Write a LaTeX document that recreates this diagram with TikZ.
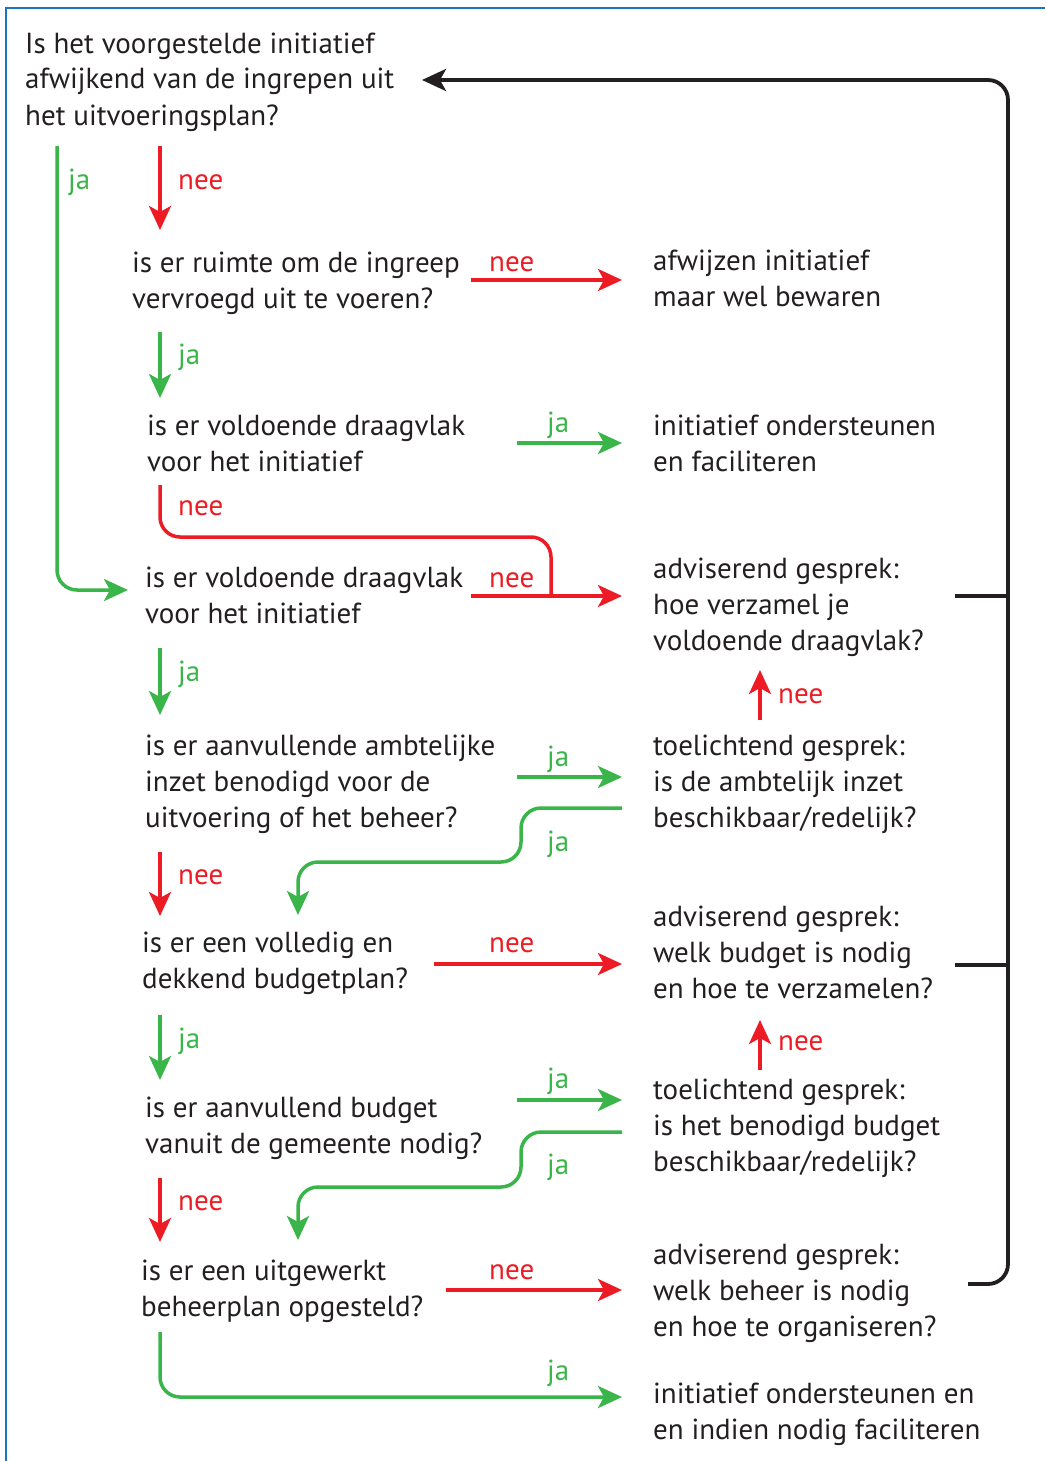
\documentclass[tikz,border=0pt]{standalone}
\usepackage{fontspec}
\setmainfont{PT Sans}
\usetikzlibrary{arrows.meta}
\definecolor{rd}{HTML}{ED1C24}
\definecolor{gn}{HTML}{39B54A}
\definecolor{bk}{HTML}{231F20}
\definecolor{bl}{HTML}{1B75BC}
\tikzset{
  txt/.style={anchor=base west,inner sep=0pt,align=left,text=bk,font=\fontsize{29}{36}\selectfont},
  lbr/.style={anchor=base west,inner sep=0pt,text=rd,font=\fontsize{29}{36}\selectfont},
  lbg/.style={anchor=base west,inner sep=0pt,text=gn,font=\fontsize{29}{36}\selectfont},
  tip/.style={-{Stealth[length=24pt,width=22pt,inset=6pt]}},
  rarr/.style={draw=rd,line width=3.5pt,tip,rounded corners=20pt},
  garr/.style={draw=gn,line width=3.5pt,tip,rounded corners=20pt},
  rline/.style={draw=rd,line width=3.5pt,rounded corners=20pt},
  bline/.style={draw=bk,line width=3.8pt,rounded corners=20pt},
}
\begin{document}
\begin{tikzpicture}[x=1pt,y=-1pt]
\useasboundingbox (0,0) rectangle (1045,1461);
\draw[bl,line width=2pt] (6,1461) -- (6,8) -- (1045,8);

% question nodes (positioned at the baseline of their last line)
\node[txt] (q0) at (25,125) {Is het voorgestelde initiatief\\afwijkend van de ingrepen uit\\het uitvoeringsplan?};
\node[txt] (q1) at (132,308) {is er ruimte om de ingreep\\vervroegd uit te voeren?};
\node[txt] (q2) at (147,471) {is er voldoende draagvlak\\voor het initiatief};
\node[txt] (q3) at (145,623) {is er voldoende draagvlak\\voor het initiatief};
\node[txt] (q4) at (145,827) {is er aanvullende ambtelijke\\inzet benodigd voor de\\uitvoering of het beheer?};
\node[txt] (q5) at (142,988) {is er een volledig en\\dekkend budgetplan?};
\node[txt] (q6) at (145,1153) {is er aanvullend budget\\vanuit de gemeente nodig?};
\node[txt] (q7) at (141,1316) {is er een uitgewerkt\\beheerplan opgesteld?};
% result nodes
\node[txt] (r1) at (653,306) {afwijzen initiatief\\maar wel bewaren};
\node[txt] (r2) at (653,471) {initiatief ondersteunen\\en faciliteren};
\node[txt] (r3) at (653,650) {adviserend gesprek:\\hoe verzamel je\\voldoende draagvlak?};
\node[txt] (r4) at (653,827) {toelichtend gesprek:\\is de ambtelijk inzet\\beschikbaar/redelijk?};
\node[txt] (r5) at (653,998) {adviserend gesprek:\\welk budget is nodig\\en hoe te verzamelen?};
\node[txt] (r6) at (653,1171) {toelichtend gesprek:\\is het benodigd budget\\beschikbaar/redelijk?};
\node[txt] (r7) at (653,1336) {adviserend gesprek:\\welk beheer is nodig\\en hoe te organiseren?};
\node[txt] (r8) at (653,1439) {initiatief ondersteunen en\\en indien nodig faciliteren};

% labels
\node[lbg] (l1) at (68,189) {ja};
\node[lbr] (l2) at (178,189) {nee};
\node[lbr] (l3) at (489,271) {nee};
\node[lbg] (l4) at (178,364) {ja};
\node[lbg] (l5) at (547,432) {ja};
\node[lbr] (l6) at (178,515) {nee};
\node[lbr] (l7) at (489,587) {nee};
\node[lbg] (l8) at (178,681) {ja};
\node[lbg] (l9) at (547,766) {ja};
\node[lbr] (l10) at (778,703) {nee};
\node[lbg] (l11) at (547,851) {ja};
\node[lbr] (l12) at (178,884) {nee};
\node[lbr] (l13) at (489,952) {nee};
\node[lbg] (l14) at (178,1048) {ja};
\node[lbg] (l15) at (547,1088) {ja};
\node[lbr] (l16) at (778,1050) {nee};
\node[lbg] (l17) at (547,1174) {ja};
\node[lbr] (l18) at (178,1210) {nee};
\node[lbr] (l19) at (489,1279) {nee};
\node[lbg] (l20) at (547,1380) {ja};

% connectors
\draw[garr] (57,146) |- (128,590);
\draw[rarr] (160,146) -- (160,230);
\draw[rarr] (471,280) -- (622,280);
\draw[garr] (160,332) -- (160,398);
\draw[garr] (517,443) -- (622,443);
\draw[rline] (160,485) -- (160,537) -- (551,537) -- (551,597);
\draw[rarr] (471,596) -- (622,596);
\draw[garr] (160,648) -- (160,715);
\draw[garr] (517,777) -- (622,777);
\draw[rarr] (760,720) -- (760,670);
\draw[garr] (622,808) -- (521,808) -- (521,862) -- (298,862) -- (298,915);
\draw[rarr] (160,852) -- (160,916);
\draw[rarr] (434,964) -- (622,964);
\draw[garr] (160,1015) -- (160,1080);
\draw[garr] (517,1100) -- (622,1100);
\draw[rarr] (760,1070) -- (760,1020);
\draw[garr] (622,1132) -- (521,1132) -- (521,1187) -- (298,1187) -- (298,1240);
\draw[rarr] (160,1178) -- (160,1242);
\draw[rarr] (446,1290) -- (622,1290);
\draw[garr] (160,1332) |- (622,1397);
\draw[bline,tip] (968,1284) -- (1008,1284) -- (1008,80) -- (422,80);
\draw[bline] (955,596) -- (1008,596);
\draw[bline] (955,965) -- (1008,965);
\end{tikzpicture}
\end{document}
